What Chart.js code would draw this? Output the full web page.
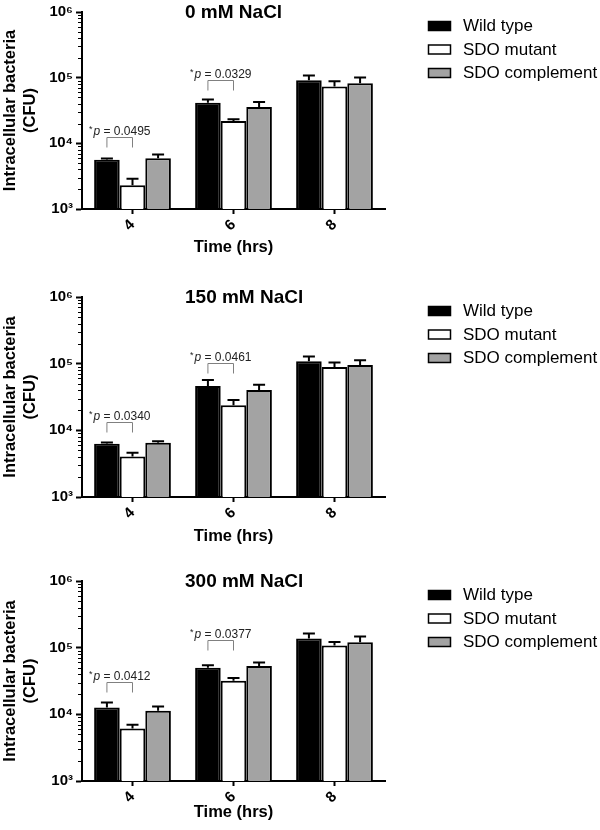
<!DOCTYPE html>
<html>
<head>
<meta charset="utf-8">
<script src="https://cdn.jsdelivr.net/npm/chart.js@4.4.1/dist/chart.umd.min.js"></script>
<style>
  html, body { margin: 0; padding: 0; background: #fff; }
  #wrap { position: relative; width: 600px; height: 830px; overflow: hidden; }
  canvas { position: absolute; left: 0; }
</style>
</head>
<body>
<div id="wrap">
  <canvas id="c0" width="600" height="280" style="top:0px;width:600px;height:280px"></canvas>
  <canvas id="c1" width="600" height="280" style="top:280px;width:600px;height:280px"></canvas>
  <canvas id="c2" width="600" height="270" style="top:560px;width:600px;height:270px"></canvas>
</div>
<script>
// ---------- data ----------
const categories = ['4', '6', '8'];
const seriesLabels = ['Wild type', 'SDO mutant', 'SDO complement'];
const panelTitles = ['0 mM NaCl', '150 mM NaCl', '300 mM NaCl'];
const yTickValues = [1000, 10000, 100000, 1000000];

// 0 mM NaCl
const wildType0 = [5600, 41500, 91500];
const mutant0 = [2300, 21800, 73400];
const complement0 = [5940, 35700, 82300];
const wildTypeErr0 = [5900, 46700, 108000];
const mutantErr0 = [2900, 23300, 88300];
const complementErr0 = [6750, 42600, 101000];
const bracketLevel0 = [12600, 91200];
const pValues0 = ['0.0495', '0.0329'];

// 150 mM NaCl
const wildType1 = [6280, 46200, 109000];
const mutant1 = [4060, 23800, 89000];
const complement1 = [6500, 40300, 95300];
const wildTypeErr1 = [6570, 56900, 128000];
const mutantErr1 = [4600, 28600, 104000];
const complementErr1 = [6880, 48400, 113000];
const bracketLevel1 = [13500, 101000];
const pValues1 = ['0.0340', '0.0461'];

// 300 mM NaCl
const wildType2 = [12700, 49800, 137000];
const mutant2 = [6150, 31800, 108000];
const complement2 = [11300, 53300, 121000];
const wildTypeErr2 = [15100, 54600, 163000];
const mutantErr2 = [6970, 35200, 122000];
const complementErr2 = [13100, 59900, 147000];
const bracketLevel2 = [30700, 129000];
const pValues2 = ['0.0412', '0.0377'];

// ---------- rendering ----------
const FAM = '"Liberation Sans", Arial, Helvetica, sans-serif';
const SUP = {3: '\u00B3', 4: '\u2074', 5: '\u2075', 6: '\u2076'};
const fills = ['#000000', '#ffffff', '#a3a3a3'];

const panels = [
  {canvas: 'c0', top: 10, xH: 71, xPad: 22.4, values: [wildType0, mutant0, complement0], errs: [wildTypeErr0, mutantErr0, complementErr0], brackets: bracketLevel0, p: pValues0},
  {canvas: 'c1', top: 17, xH: 63, xPad: 13.7, values: [wildType1, mutant1, complement1], errs: [wildTypeErr1, mutantErr1, complementErr1], brackets: bracketLevel1, p: pValues1},
  {canvas: 'c2', top: 21, xH: 49, xPad: 7.4, values: [wildType2, mutant2, complement2], errs: [wildTypeErr2, mutantErr2, complementErr2], brackets: bracketLevel2, p: pValues2}
];

const extras = {
  id: 'extras',
  afterDatasetsDraw(chart, args, o) {
    const ctx = chart.ctx;
    const ys = chart.scales.y;
    const ca = chart.chartArea;
    // error bars (upper only)
    o.errs.forEach((arr, di) => {
      const meta = chart.getDatasetMeta(di);
      meta.data.forEach((bar, i) => {
        const yt = ys.getPixelForValue(arr[i]);
        ctx.save();
        ctx.strokeStyle = '#000';
        ctx.lineWidth = 2;
        ctx.beginPath();
        ctx.moveTo(bar.x, bar.y);
        ctx.lineTo(bar.x, yt);
        ctx.moveTo(bar.x - 6, yt);
        ctx.lineTo(bar.x + 6, yt);
        ctx.stroke();
        ctx.restore();
      });
    });
    // minor ticks on log axis
    ctx.save();
    ctx.strokeStyle = '#000';
    ctx.lineWidth = 1;
    for (let d = 3; d < 6; d++) {
      for (let k = 2; k <= 9; k++) {
        const py = Math.round(ys.getPixelForValue(k * Math.pow(10, d))) + 0.5;
        ctx.beginPath();
        ctx.moveTo(ca.left - 4, py);
        ctx.lineTo(ca.left, py);
        ctx.stroke();
      }
    }
    ctx.restore();
    // significance brackets
    const m0 = chart.getDatasetMeta(0), m1 = chart.getDatasetMeta(1);
    o.brackets.forEach((lvl, g) => {
      const x0 = m0.data[g].x, x1 = m1.data[g].x;
      const by = Math.round(ys.getPixelForValue(lvl)) + 0.5;
      ctx.save();
      ctx.strokeStyle = '#808080';
      ctx.lineWidth = 1;
      ctx.beginPath();
      ctx.moveTo(x0, by + 10);
      ctx.lineTo(x0, by);
      ctx.lineTo(x1, by);
      ctx.lineTo(x1, by + 10);
      ctx.stroke();
      // text
      const fStar = '9px ' + FAM, fP = 'italic 12px ' + FAM, fN = '12px ' + FAM;
      const rest = ' = ' + o.p[g];
      ctx.font = fStar; const wS = ctx.measureText('*').width;
      ctx.font = fP; const wP = ctx.measureText('p').width;
      ctx.font = fN; const wR = ctx.measureText(rest).width;
      let tx = (x0 + x1) / 2 - (wS + 1 + wP + wR) / 2;
      const base = by - 3;
      ctx.fillStyle = '#222';
      ctx.textBaseline = 'alphabetic';
      ctx.textAlign = 'left';
      ctx.font = fStar; ctx.fillText('*', tx, base - 3); tx += wS + 1;
      ctx.font = fP; ctx.fillText('p', tx, base); tx += wP;
      ctx.font = fN; ctx.fillText(rest, tx, base);
      ctx.restore();
    });
  },
  afterDraw(chart, args, o) {
    const ctx = chart.ctx;
    const ca = chart.chartArea;
    ctx.save();
    // panel title
    ctx.fillStyle = '#000';
    ctx.font = 'bold 19px ' + FAM;
    ctx.textAlign = 'left';
    ctx.textBaseline = 'middle';
    ctx.fillText(o.title, 185, ca.top + 1);
    // legend
    chart.data.datasets.forEach((ds, i) => {
      const cy = ca.top + 14 + i * 23.5;
      ctx.fillStyle = ds.backgroundColor;
      ctx.fillRect(428.5, cy - 4.5, 22, 9);
      ctx.strokeStyle = '#000';
      ctx.lineWidth = 1.5;
      ctx.strokeRect(428.5, cy - 4.5, 22, 9);
      ctx.fillStyle = '#000';
      ctx.font = '17px ' + FAM;
      ctx.textAlign = 'left';
      ctx.textBaseline = 'middle';
      ctx.fillText(ds.label, 463, cy + 0.5);
    });
    ctx.restore();
  }
};

panels.forEach((P, pi) => {
  new Chart(document.getElementById(P.canvas), {
    type: 'bar',
    data: {
      labels: categories,
      datasets: seriesLabels.map((lab, i) => ({
        label: lab,
        data: P.values[i],
        backgroundColor: fills[i],
        borderColor: '#000',
        borderWidth: 2,
        categoryPercentage: 0.76,
        barPercentage: 1.0
      }))
    },
    options: {
      responsive: false,
      animation: false,
      devicePixelRatio: 1,
      layout: {padding: {top: P.top, right: 215, left: 0, bottom: 0}},
      plugins: {
        legend: {display: false},
        tooltip: {enabled: false},
        title: {display: false},
        extras: {title: panelTitles[pi], errs: P.errs, brackets: P.brackets, p: P.p}
      },
      scales: {
        x: {
          type: 'category',
          offset: true,
          grid: {display: true, drawOnChartArea: false, drawTicks: true, tickLength: 5, offset: false, tickColor: '#000', tickWidth: 2, color: '#000'},
          border: {display: true, color: '#000', width: 2},
          ticks: {font: {family: FAM, size: 15, weight: 'bold'}, color: '#000', maxRotation: 45, minRotation: 45, padding: 2},
          title: {display: true, text: 'Time (hrs)', color: '#000', font: {family: FAM, size: 16.5, weight: 'bold', lineHeight: 1.2}, padding: {top: 0, bottom: P.xPad}},
          afterFit: s => { s.height = P.xH; }
        },
        y: {
          type: 'logarithmic',
          min: 1000,
          max: 1000000,
          afterBuildTicks: s => { s.ticks = yTickValues.map(v => ({value: v})); },
          grid: {display: true, drawOnChartArea: false, drawTicks: true, tickLength: 6, tickWidth: 2, tickColor: '#000', color: '#000'},
          border: {display: true, color: '#000', width: 2},
          ticks: {
            autoSkip: false,
            color: '#000',
            padding: 3,
            font: {family: FAM, size: 15, weight: 'bold'},
            callback: v => '10' + (SUP[Math.round(Math.log10(v))] || '')
          },
          title: {display: true, text: ['Intracellular bacteria', '(CFU)'], color: '#000', font: {family: FAM, size: 16.5, weight: 'bold', lineHeight: 1.25}, padding: {top: 0, bottom: 0}},
          afterFit: s => { s.width = 82; }
        }
      }
    },
    plugins: [extras]
  });
});
</script>
</body>
</html>
